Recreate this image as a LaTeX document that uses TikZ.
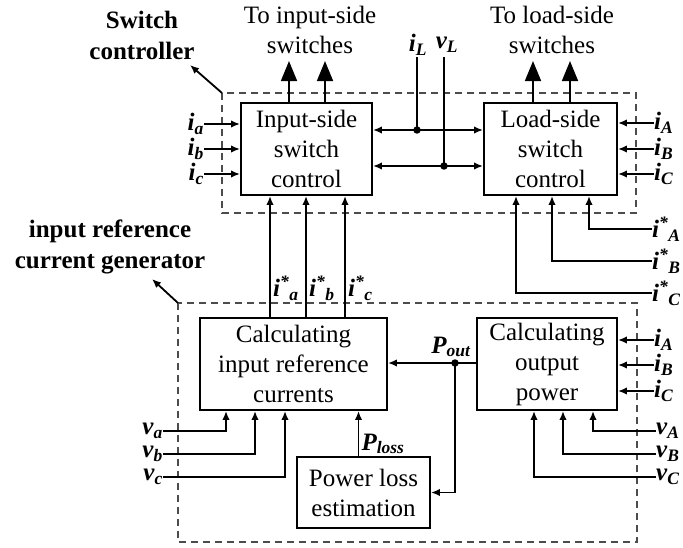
\documentclass[tikz,border=0pt]{standalone}
\usepackage{fontspec}
\setmainfont{Liberation Serif}
\usetikzlibrary{arrows.meta}
\begin{document}
\begin{tikzpicture}[x=1pt,y=-1pt,
  box/.style={draw,line width=1.9pt,align=center,font=\fontsize{25}{30}\selectfont,inner sep=0pt},
  wire/.style={line width=1.8pt},
  arr/.style={wire,-{Latex[length=9pt,width=7.5pt]}},
  darr/.style={wire,{Latex[length=9pt,width=7.5pt]}-{Latex[length=9pt,width=7.5pt]}},
  bigarr/.style={wire,-{Triangle[length=20pt,width=16pt]}},
  dashbox/.style={draw=black!70,line width=1.3pt,dash pattern=on 7pt off 5pt},
  lab/.style={font=\fontsize{25}{30}\selectfont\bfseries\itshape,inner sep=0pt},
  ttl/.style={font=\fontsize{25}{31}\selectfont\bfseries,align=center},
  txt/.style={font=\fontsize{25}{30}\selectfont,align=center},
  dot/.style={fill,circle,inner sep=0pt,minimum size=7.5pt}
]
\useasboundingbox (0,0) rectangle (683,548);
% dashed groups
\draw[dashbox] (222,93) rectangle (636,213);
\draw[dashbox] (178,303) rectangle (637,542);
\coordinate (c1) at (222,93);
\coordinate (c2) at (178,303);
% titles
\node[ttl] (swc) at (142,35) {Switch\\controller};
\coordinate (t1) at (190,65);
\draw[arr] (c1) -- (t1);
\node[ttl] (irg) at (110,247) {input reference\\current generator};
\coordinate (t2) at (152,279);
\draw[arr] (c2) -- (t2);
% boxes
\node[box,minimum width=131pt,minimum height=92pt] (isc) at (306.5,149) {Input-side\\switch\\control};
\node[box,minimum width=133pt,minimum height=92pt] (lsc) at (550.5,149) {Load-side\\switch\\control};
\node[box,minimum width=187pt,minimum height=92pt] (circ) at (293.5,364) {Calculating\\input reference\\currents};
\node[box,minimum width=140pt,minimum height=92pt] (cop) at (547,364) {Calculating\\output\\power};
\node[box,minimum width=133pt,minimum height=71pt] (ple) at (363.5,492.5) {Power loss\\estimation};
% top outputs
\node[txt] (tis) at (310,30) {To input-side\\switches};
\node[txt] (tls) at (552,30) {To load-side\\switches};
\draw[bigarr] ([xshift=-17.5pt]isc.north) -- ++(0,-41);
\draw[bigarr] ([xshift=18.5pt]isc.north) -- ++(0,-41);
\draw[bigarr] ([xshift=-17.5pt]lsc.north) -- ++(0,-41);
\draw[bigarr] ([xshift=19.5pt]lsc.north) -- ++(0,-41);
% iL vL
\node[lab] (iL) at (418,45) {i\textsubscript{L}};
\node[lab] (vL) at (447,45) {v\textsubscript{L}};
\coordinate (jL) at (417,130);
\coordinate (jV) at (444,166);
\draw[wire] (jL |- 0,57) -- (jL);
\draw[wire] (jV |- 0,57) -- (jV);
\draw[darr] (isc.east |- jL) -- (lsc.west |- jL);
\draw[darr] (isc.east |- jV) -- (lsc.west |- jV);
\node[dot] at (jL) {};
\node[dot] at (jV) {};
% left inputs top
\node[lab,anchor=east] (ia) at (204,124) {i\textsubscript{a}};
\node[lab,anchor=east] (ib) at (204,149) {i\textsubscript{b}};
\node[lab,anchor=east] (ic) at (204,174) {i\textsubscript{c}};
\foreach \n in {ia,ib,ic} \draw[arr] (\n.east) -- (\n.east -| isc.west);
% right inputs top
\node[lab,anchor=west] (iA) at (654,123) {i\textsubscript{A}};
\node[lab,anchor=west] (iB) at (654,149) {i\textsubscript{B}};
\node[lab,anchor=west] (iC) at (654,174) {i\textsubscript{C}};
\foreach \n in {iA,iB,iC} \draw[arr] (\n.west) -- (\n.west -| lsc.east);
% reference currents load side
\node[lab,anchor=west] (iAs) at (652,229) {i\textsuperscript{*}\textsubscript{A}};
\node[lab,anchor=west] (iBs) at (652,261) {i\textsuperscript{*}\textsubscript{B}};
\node[lab,anchor=west] (iCs) at (652,293) {i\textsuperscript{*}\textsubscript{C}};
\draw[arr] (iAs.west) -| (lsc.south -| 589,0);
\draw[arr] (iBs.west) -| (lsc.south -| 552,0);
\draw[arr] (iCs.west) -| (lsc.south -| 516,0);
% input reference currents
\draw[arr] (circ.north -| 270,0) -- (isc.south -| 270,0);
\draw[arr] (circ.north -| 306,0) -- (isc.south -| 306,0);
\draw[arr] (circ.north -| 345,0) -- (isc.south -| 345,0);
\node[lab,anchor=west] (ias) at (273,288) {i\textsuperscript{*}\textsubscript{a}};
\node[lab,anchor=west] (ibs) at (309,288) {i\textsuperscript{*}\textsubscript{b}};
\node[lab,anchor=west] (ics) at (348,288) {i\textsuperscript{*}\textsubscript{c}};
% Pout
\coordinate (jP) at (455,363);
\draw[arr] (cop.west |- jP) -- (circ.east |- jP);
\draw[arr] (jP) -- (jP |- ple.east) -- (ple.east);
\node[dot] at (jP) {};
\node[lab] (Pout) at (451,347) {P\textsubscript{out}};
% Ploss
\draw[arr] ([xshift=-5pt]ple.north) -- ([xshift=-5pt]ple.north |- circ.south);
\node[lab] (Ploss) at (383,444) {P\textsubscript{loss}};
% output power inputs
\node[lab,anchor=west] (iA2) at (654,340) {i\textsubscript{A}};
\node[lab,anchor=west] (iB2) at (654,365) {i\textsubscript{B}};
\node[lab,anchor=west] (iC2) at (654,391) {i\textsubscript{C}};
\foreach \n in {iA2,iB2,iC2} \draw[arr] (\n.west) -- (\n.west -| cop.east);
% voltages left
\node[lab,anchor=east] (va) at (163,431) {v\textsubscript{a}};
\node[lab,anchor=east] (vb) at (163,454) {v\textsubscript{b}};
\node[lab,anchor=east] (vc) at (163,477) {v\textsubscript{c}};
\draw[arr] (va.east) -| (circ.south -| 226,0);
\draw[arr] (vb.east) -| (circ.south -| 255,0);
\draw[arr] (vc.east) -| (circ.south -| 285,0);
% voltages right
\node[lab,anchor=west] (vA) at (656,431) {v\textsubscript{A}};
\node[lab,anchor=west] (vB) at (656,454) {v\textsubscript{B}};
\node[lab,anchor=west] (vC) at (656,477) {v\textsubscript{C}};
\draw[arr] (vA.west) -| (cop.south -| 593,0);
\draw[arr] (vB.west) -| (cop.south -| 563,0);
\draw[arr] (vC.west) -| (cop.south -| 534,0);
\end{tikzpicture}
\end{document}
